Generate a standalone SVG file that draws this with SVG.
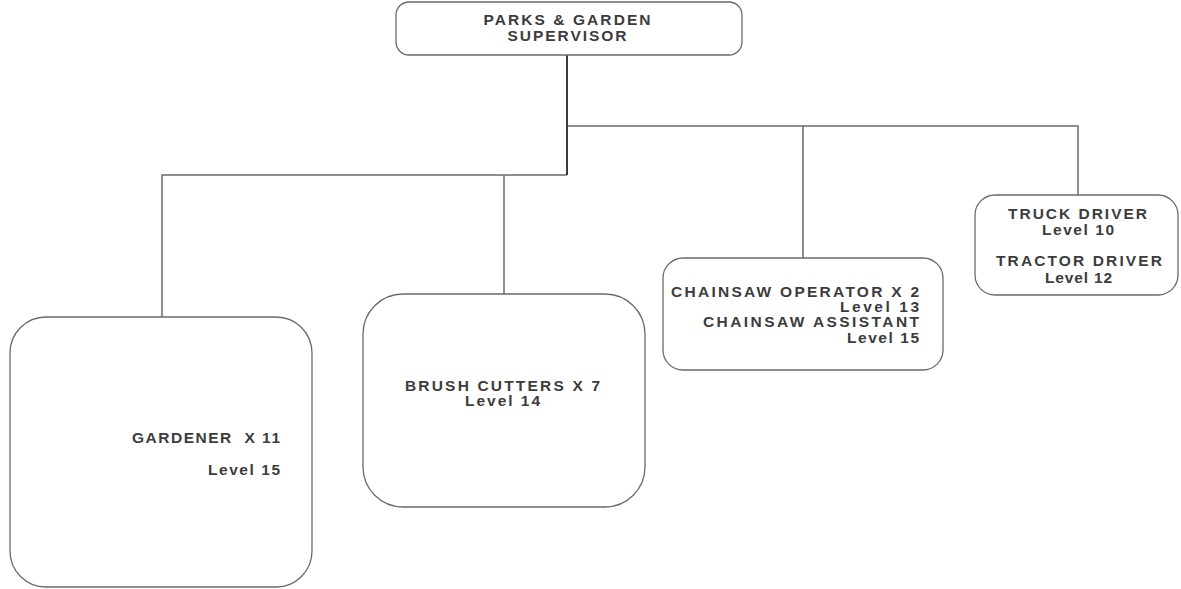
<svg xmlns="http://www.w3.org/2000/svg" width="1181" height="589" viewBox="0 0 1181 589">
  <style>
    .box { fill: #ffffff; stroke: #6a6a6a; stroke-width: 1.3; }
    .wire { fill: none; stroke: #6a6a6a; stroke-width: 1.5; }
    .trunk { fill: none; stroke: #3a3a3a; stroke-width: 2; }
    text { font-family: "Liberation Sans", Arial, sans-serif; font-size: 15.5px; font-weight: bold; fill: #3c3c3c; white-space: pre; }
    .mid { text-anchor: middle; }
    .end { text-anchor: end; }
  </style>
  <rect width="1181" height="589" fill="#ffffff"/>

  <!-- connectors -->
  <g id="connectors">
    <path class="wire" d="M567 126 H1078 V195"/>
    <path class="wire" d="M803 126 V258"/>
    <path class="wire" d="M567 175 H162 V317"/>
    <path class="wire" d="M504 175 V294"/>
    <path class="trunk" d="M567 55 V175"/>
  </g>

  <!-- top: supervisor -->
  <g id="supervisor">
    <rect class="box" x="396" y="2" width="346" height="53" rx="13"/>
    <text class="mid" x="567" y="25" textLength="167" lengthAdjust="spacing">PARKS &amp; GARDEN</text>
    <text class="mid" x="567" y="41" textLength="119" lengthAdjust="spacing">SUPERVISOR</text>
  </g>

  <g id="gardener">
    <rect class="box" x="10" y="317" width="302" height="270" rx="36"/>
    <text class="end" x="280" y="443" textLength="148" lengthAdjust="spacing">GARDENER  X 11</text>
    <text class="end" x="280" y="475" textLength="72" lengthAdjust="spacing">Level 15</text>
  </g>

  <g id="brush-cutters">
    <rect class="box" x="363" y="294" width="282" height="213" rx="40"/>
    <text x="405" y="391" textLength="195" lengthAdjust="spacing">BRUSH CUTTERS X 7</text>
    <text x="465" y="406" textLength="75" lengthAdjust="spacing">Level 14</text>
  </g>

  <g id="chainsaw">
    <rect class="box" x="663" y="258" width="280" height="112" rx="20"/>
    <text class="end" x="919" y="297" textLength="248" lengthAdjust="spacing">CHAINSAW OPERATOR X 2</text>
    <text class="end" x="919" y="312" textLength="79" lengthAdjust="spacing">Level 13</text>
    <text class="end" x="919" y="327" textLength="216" lengthAdjust="spacing">CHAINSAW ASSISTANT</text>
    <text class="end" x="919" y="343" textLength="72" lengthAdjust="spacing">Level 15</text>
  </g>

  <g id="drivers">
    <rect class="box" x="975" y="195" width="203" height="100" rx="20"/>
    <text x="1008" y="219" textLength="139" lengthAdjust="spacing">TRUCK DRIVER</text>
    <text x="1042" y="235" textLength="72" lengthAdjust="spacing">Level 10</text>
    <text x="996" y="266" textLength="166" lengthAdjust="spacing">TRACTOR DRIVER</text>
    <text x="1045" y="283" textLength="67" lengthAdjust="spacing">Level 12</text>
  </g>
</svg>
